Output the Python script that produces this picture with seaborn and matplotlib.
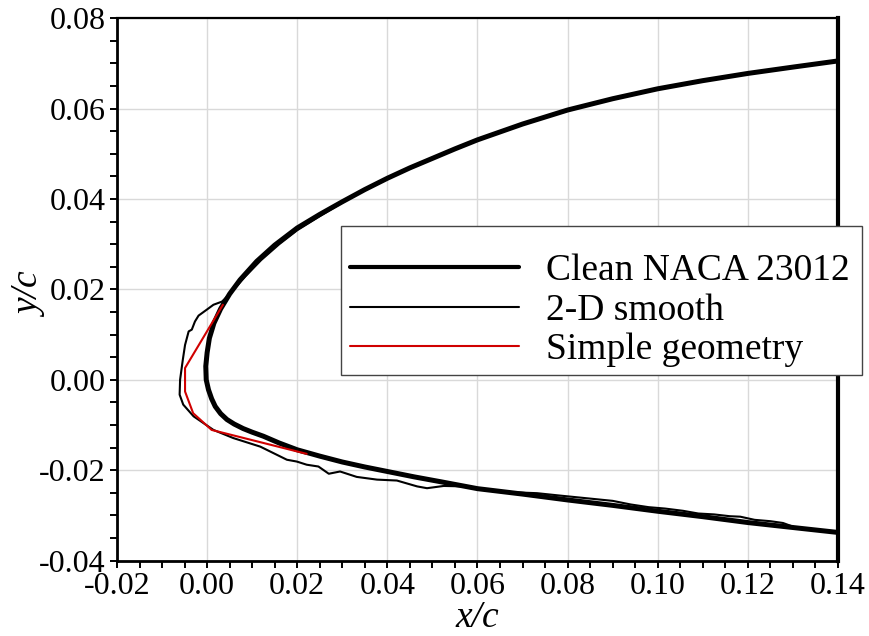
import matplotlib
matplotlib.use("Agg")
import matplotlib.pyplot as plt
from matplotlib.patches import Rectangle
from matplotlib.ticker import MultipleLocator, FormatStrFormatter
import seaborn as sns
import pandas as pd

# Clean NACA 23012 leading-edge contour (upper side -> LE -> lower side)
clean_x = [0.1410, 0.1300, 0.1200, 0.1100, 0.1000, 0.0900, 0.0800, 0.0700, 0.0600,
           0.0550, 0.0500, 0.0450, 0.0400, 0.0350, 0.0300, 0.0250, 0.0200, 0.0150,
           0.0110, 0.0073, 0.0050, 0.0030, 0.0015, 0.0005, 0.0000, -0.0003, -0.0002,
           0.0003, 0.0010, 0.0018, 0.0030, 0.0044, 0.0060, 0.0080, 0.0100, 0.0125,
           0.0160, 0.0200, 0.0250, 0.0300, 0.0350, 0.0400, 0.0460, 0.0520, 0.0600,
           0.0700, 0.0800, 0.0900, 0.1000, 0.1100, 0.1200, 0.1300, 0.1410]
clean_y = [0.0707, 0.0692, 0.0678, 0.0662, 0.0644, 0.0622, 0.0597, 0.0566, 0.0531,
           0.0511, 0.0490, 0.0469, 0.0446, 0.0421, 0.0394, 0.0366, 0.0336, 0.0298,
           0.0262, 0.0221, 0.0190, 0.0157, 0.0125, 0.0092, 0.0060, 0.0030, 0.0000,
           -0.0022, -0.0042, -0.0059, -0.0075, -0.0088, -0.0098, -0.0108, -0.0116, -0.0125,
           -0.0140, -0.0155, -0.0169, -0.0182, -0.0193, -0.0203, -0.0215, -0.0226, -0.0241,
           -0.0253, -0.0266, -0.0278, -0.0291, -0.0303, -0.0316, -0.0327, -0.0339]

# 2-D smooth ice shape
smooth_x = [0.0300, 0.0250, 0.0200, 0.0160, 0.0120, 0.0085, 0.0055, 0.0033, 0.0014,
            -0.0001, -0.0019, -0.0027, -0.0034, -0.0041, -0.0049, -0.0054, -0.0060,
            -0.0061, -0.0053, -0.0030, -0.0008, 0.0014, 0.0058, 0.0118, 0.0177, 0.0199,
            0.0221, 0.0247, 0.0270, 0.0295, 0.0332, 0.0377, 0.0421, 0.0466, 0.0488,
            0.0525, 0.0569, 0.0628, 0.0680, 0.0732, 0.0780, 0.0820, 0.0860, 0.0900,
            0.0940, 0.0980, 0.1016, 0.1056, 0.1090, 0.1125, 0.1160, 0.1183, 0.1215,
            0.1250, 0.1278, 0.1300]
smooth_y = [0.0392, 0.0362, 0.0331, 0.0300, 0.0265, 0.0229, 0.0195, 0.0173, 0.0166,
            0.0155, 0.0142, 0.0129, 0.0111, 0.0107, 0.0077, 0.0044, 0.0000,
            -0.0033, -0.0055, -0.0081, -0.0096, -0.0111, -0.0129, -0.0148, -0.0177, -0.0181,
            -0.0188, -0.0192, -0.0208, -0.0203, -0.0215, -0.0221, -0.0223, -0.0236, -0.0240,
            -0.0235, -0.0236, -0.0244, -0.0249, -0.0251, -0.0256, -0.0260, -0.0264, -0.0268,
            -0.0276, -0.0282, -0.0285, -0.0290, -0.0296, -0.0298, -0.0302, -0.0303, -0.0310,
            -0.0313, -0.0317, -0.0325]

# Simple geometry (polyline approximation of the ice shape)
simple_x = [0.0035, -0.0049, -0.0049, -0.0031, 0.0010, 0.0221]
simple_y = [0.0166, 0.0026, -0.0026, -0.0074, -0.0111, -0.0164]

series_names = ["Clean NACA 23012", "2-D smooth", "Simple geometry"]

sns.set_style("white")
plt.rcParams["font.family"] = ["Liberation Serif", "DejaVu Serif"]
plt.rcParams["text.color"] = "black"
plt.rcParams["axes.labelcolor"] = "black"

W, H = 870, 636
fig = plt.figure(figsize=(W / 100, H / 100), dpi=100)
ax = fig.add_axes([117 / W, 1 - 560.5 / H, (838 - 117) / W, (560.5 - 18.3) / H])

df_clean = pd.DataFrame({"x": clean_x, "y": clean_y})
df_smooth = pd.DataFrame({"x": smooth_x, "y": smooth_y})
df_simple = pd.DataFrame({"x": simple_x, "y": simple_y})

sns.lineplot(data=df_clean, x="x", y="y", sort=False, estimator=None, ax=ax,
             color="black", linewidth=3.6, label=series_names[0], zorder=3)
sns.lineplot(data=df_smooth, x="x", y="y", sort=False, estimator=None, ax=ax,
             color="black", linewidth=1.5, label=series_names[1], zorder=4)
sns.lineplot(data=df_simple, x="x", y="y", sort=False, estimator=None, ax=ax,
             color="#d00000", linewidth=1.5, label=series_names[2], zorder=5)

ax.set_xlim(-0.02, 0.14)
ax.set_ylim(-0.04, 0.08)
ax.xaxis.set_major_locator(MultipleLocator(0.02))
ax.yaxis.set_major_locator(MultipleLocator(0.02))
ax.xaxis.set_minor_locator(MultipleLocator(0.005))
ax.yaxis.set_minor_locator(MultipleLocator(0.005))
ax.xaxis.set_major_formatter(FormatStrFormatter("%.2f"))
ax.yaxis.set_major_formatter(FormatStrFormatter("%.2f"))

ax.grid(True, which="major", color="#d9d9d9", linewidth=1.0, zorder=0)
ax.set_axisbelow(True)

ax.tick_params(which="both", direction="out", length=5, width=1.4, colors="black",
               top=False, right=False, bottom=True, left=True)
ax.tick_params(which="major", labelsize=23, pad=3, labelcolor="black")

for side, lw in [("left", 2.0), ("bottom", 2.0), ("top", 1.6), ("right", 3.0)]:
    ax.spines[side].set_visible(True)
    ax.spines[side].set_color("black")
    ax.spines[side].set_linewidth(lw)

ax.set_xlabel("x/c", fontsize=27, fontstyle="italic", labelpad=0, color="black")
ax.set_ylabel("y/c", fontsize=27, fontstyle="italic", color="black")
ax.yaxis.set_label_coords(-0.095, 0.49)

# Legend box, drawn in figure pixels, with the entries placed inside it
ax.add_patch(Rectangle((341 / W, 1 - 375 / H), (862 - 341) / W, (375 - 226) / H,
                       transform=fig.transFigure, facecolor="white",
                       edgecolor="#444444", linewidth=1.0, zorder=9, clip_on=False))
leg = ax.legend(loc="upper left", bbox_to_anchor=(350 / W, 1 - 254 / H),
                bbox_transform=fig.transFigure, fontsize=27, frameon=False,
                handlelength=4.5, handletextpad=0.72, labelspacing=0.13,
                borderpad=0, borderaxespad=0, labelcolor="black")
leg.set_zorder(10)
for line, w in zip(leg.get_lines(), [3.0, 1.5, 1.5]):
    line.set_linewidth(w)
    line.set_solid_capstyle("round")

fig.savefig("out.png", dpi=100)
